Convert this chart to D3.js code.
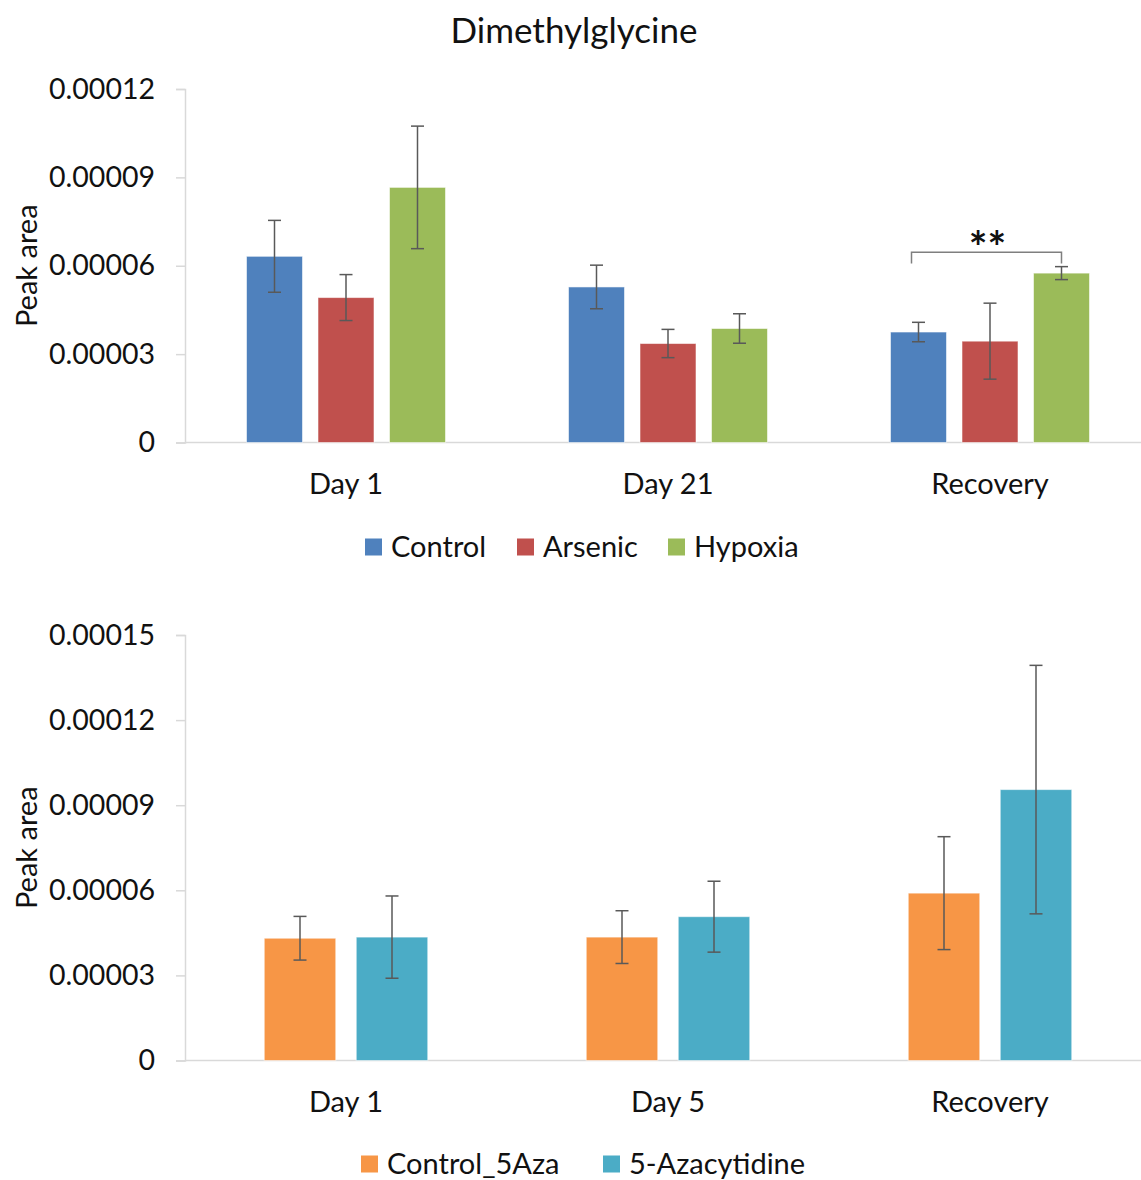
<!DOCTYPE html>
<html>
<head>
<meta charset="utf-8">
<script src="https://cdn.jsdelivr.net/npm/d3@7"></script>
<style>
  html, body { margin: 0; padding: 0; background: #fff; }
  svg { display: block; }
  text { font-family: Lato, "Open Sans", sans-serif; fill: #111; }
</style>
</head>
<body>
<script>
// ---- Panel 1: Dimethylglycine, arsenic / hypoxia experiment ----
const categoriesA = ["Day 1", "Day 21", "Recovery"];
const seriesA = ["Control", "Arsenic", "Hypoxia"];
const colorsA = ["#4F81BD", "#C0504D", "#9BBB59"];
const controlA = [6.32e-5, 5.28e-5, 3.75e-5];
const arsenicA = [4.92e-5, 3.36e-5, 3.44e-5];
const hypoxiaA = [8.66e-5, 3.87e-5, 5.75e-5];
const controlErrA = [1.22e-5, 0.74e-5, 0.33e-5];
const arsenicErrA = [0.78e-5, 0.48e-5, 1.29e-5];
const hypoxiaErrA = [2.08e-5, 0.50e-5, 0.22e-5];
const ticksA = [0, 0.00003, 0.00006, 0.00009, 0.00012];
const tickLabelsA = ["0", "0.00003", "0.00006", "0.00009", "0.00012"];

// ---- Panel 2: 5-Azacytidine experiment ----
const categoriesB = ["Day 1", "Day 5", "Recovery"];
const seriesB = ["Control_5Aza", "5-Azacytidine"];
const colorsB = ["#F79646", "#4BACC6"];
const controlB = [4.31e-5, 4.35e-5, 5.90e-5];
const azaB = [4.35e-5, 5.07e-5, 9.55e-5];
const controlErrB = [0.77e-5, 0.93e-5, 1.99e-5];
const azaErrB = [1.45e-5, 1.25e-5, 4.38e-5];
const ticksB = [0, 0.00003, 0.00006, 0.00009, 0.00012, 0.00015];
const tickLabelsB = ["0", "0.00003", "0.00006", "0.00009", "0.00012", "0.00015"];

const W = 1141, H = 1180;
const svg = d3.select("body").append("svg").attr("width", W).attr("height", H);

const FONT = 29;
const TICK_FONT = 28.5;
const axisColor = "#d9d9d9";
const errColor = "#595959";

svg.append("text")
  .attr("x", 574).attr("y", 29)
  .attr("text-anchor", "middle").attr("dominant-baseline", "central")
  .style("font-size", "35px")
  .text("Dimethylglycine");

function panel(opts) {
  const { categories, series, colors, values, errors, ticks, tickLabels,
          yTop, yBottom, yMax, groupWidth, paddingInner, legendY, legendItems, catLabelY } = opts;
  const g = svg.append("g");
  const left = 185, catStep = 322;

  const x0 = d3.scaleBand().domain(categories)
    .range([left, left + catStep * categories.length]).padding(0);
  const x1 = d3.scaleBand().domain(series)
    .range([-groupWidth / 2, groupWidth / 2]).paddingInner(paddingInner).paddingOuter(0);
  const y = d3.scaleLinear().domain([0, yMax]).range([yBottom, yTop]);

  // y axis
  const yAxis = d3.axisLeft(y).tickValues(ticks)
    .tickFormat((d, i) => tickLabels[i]).tickSize(9).tickPadding(21);
  const ya = g.append("g").attr("transform", `translate(${left},0)`).call(yAxis);
  ya.select(".domain").attr("stroke", axisColor).attr("stroke-width", 1.5);
  ya.selectAll(".tick line").attr("stroke", axisColor).attr("stroke-width", 1.5);
  ya.selectAll(".tick text").style("font-size", TICK_FONT + "px")
    .style("font-family", "Lato, sans-serif").attr("fill", "#111");

  // x axis baseline
  const xAxis = d3.axisBottom(x0).tickSize(0).tickPadding(0).tickFormat("");
  const xa = g.append("g").attr("transform", `translate(0,${yBottom})`).call(xAxis);
  xa.select(".domain").attr("stroke", axisColor).attr("stroke-width", 1.5)
    .attr("d", `M${left},0H${W}`);

  // category labels
  g.selectAll(".cat").data(categories).join("text")
    .attr("x", d => x0(d) + x0.bandwidth() / 2)
    .attr("y", catLabelY)
    .attr("text-anchor", "middle").attr("dominant-baseline", "central")
    .style("font-size", FONT + "px")
    .text(d => d);

  // y title
  g.append("text")
    .attr("transform", `translate(25,${(yTop + yBottom) / 2}) rotate(-90)`)
    .attr("text-anchor", "middle").attr("dominant-baseline", "central")
    .style("font-size", FONT + "px")
    .text("Peak area");

  // bars and error bars
  series.forEach((s, si) => {
    const data = categories.map((c, ci) => ({ c, v: values[si][ci], e: errors[si][ci] }));
    const cx = d => x0(d.c) + x0.bandwidth() / 2 + x1(s);
    g.selectAll(null).data(data).join("rect")
      .attr("x", cx)
      .attr("y", d => y(d.v))
      .attr("width", x1.bandwidth())
      .attr("height", d => y(0) - y(d.v))
      .attr("fill", colors[si])
      .attr("stroke", "rgba(255,255,255,0.55)").attr("stroke-width", 1);
    const mid = d => cx(d) + x1.bandwidth() / 2;
    const eg = g.selectAll(null).data(data).join("g");
    eg.append("line")
      .attr("x1", mid).attr("x2", mid)
      .attr("y1", d => y(d.v + d.e)).attr("y2", d => y(d.v - d.e))
      .attr("stroke", errColor).attr("stroke-width", 1.5);
    [1, -1].forEach(sg => {
      eg.append("line")
        .attr("x1", d => mid(d) - 6.5).attr("x2", d => mid(d) + 6.5)
        .attr("y1", d => y(d.v + sg * d.e)).attr("y2", d => y(d.v + sg * d.e))
        .attr("stroke", errColor).attr("stroke-width", 1.5);
    });
  });

  // legend
  const lg = g.append("g");
  legendItems.forEach((it, i) => {
    lg.append("rect").attr("x", it.x).attr("y", legendY - 8.5).attr("width", 17).attr("height", 17)
      .attr("fill", colors[i]);
    lg.append("text").attr("x", it.x + 26).attr("y", legendY - 2)
      .attr("dominant-baseline", "central").style("font-size", FONT + "px")
      .text(series[i]);
  });

  return { x0, x1, y, g };
}

const pA = panel({
  categories: categoriesA, series: seriesA, colors: colorsA,
  values: [controlA, arsenicA, hypoxiaA],
  errors: [controlErrA, arsenicErrA, hypoxiaErrA],
  ticks: ticksA, tickLabels: tickLabelsA,
  yTop: 89, yBottom: 442.5, yMax: 0.00012,
  groupWidth: 199, paddingInner: 15.5 / 71.5,
  legendY: 547, catLabelY: 482,
  legendItems: [{ x: 365 }, { x: 517 }, { x: 668 }]
});

const pB = panel({
  categories: categoriesB, series: seriesB, colors: colorsB,
  values: [controlB, azaB],
  errors: [controlErrB, azaErrB],
  ticks: ticksB, tickLabels: tickLabelsB,
  yTop: 635, yBottom: 1060.5, yMax: 0.00015,
  groupWidth: 163.5, paddingInner: 20.5 / 92,
  legendY: 1164, catLabelY: 1100,
  legendItems: [{ x: 361 }, { x: 603 }]
});

// significance bracket between Control and Hypoxia at Recovery
(function () {
  const { x0, x1, y, g } = pA;
  const c = "Recovery";
  const xl = x0(c) + x0.bandwidth() / 2 + x1("Control") + x1.bandwidth() / 2 - 7;
  const xr = x0(c) + x0.bandwidth() / 2 + x1("Hypoxia") + x1.bandwidth() / 2;
  const top = y(0.0000646), end = y(0.0000608);
  g.append("path")
    .attr("d", `M${xl},${end}V${top}H${xr}V${end}`)
    .attr("fill", "none").attr("stroke", "#7f7f7f").attr("stroke-width", 1.5);
  g.append("text")
    .attr("x", (xl + xr) / 2 + 1).attr("y", top + 11)
    .attr("text-anchor", "middle")
    .style("font-size", "44px").style("font-weight", "bold")
    .text("**");
})();
</script>
</body>
</html>
